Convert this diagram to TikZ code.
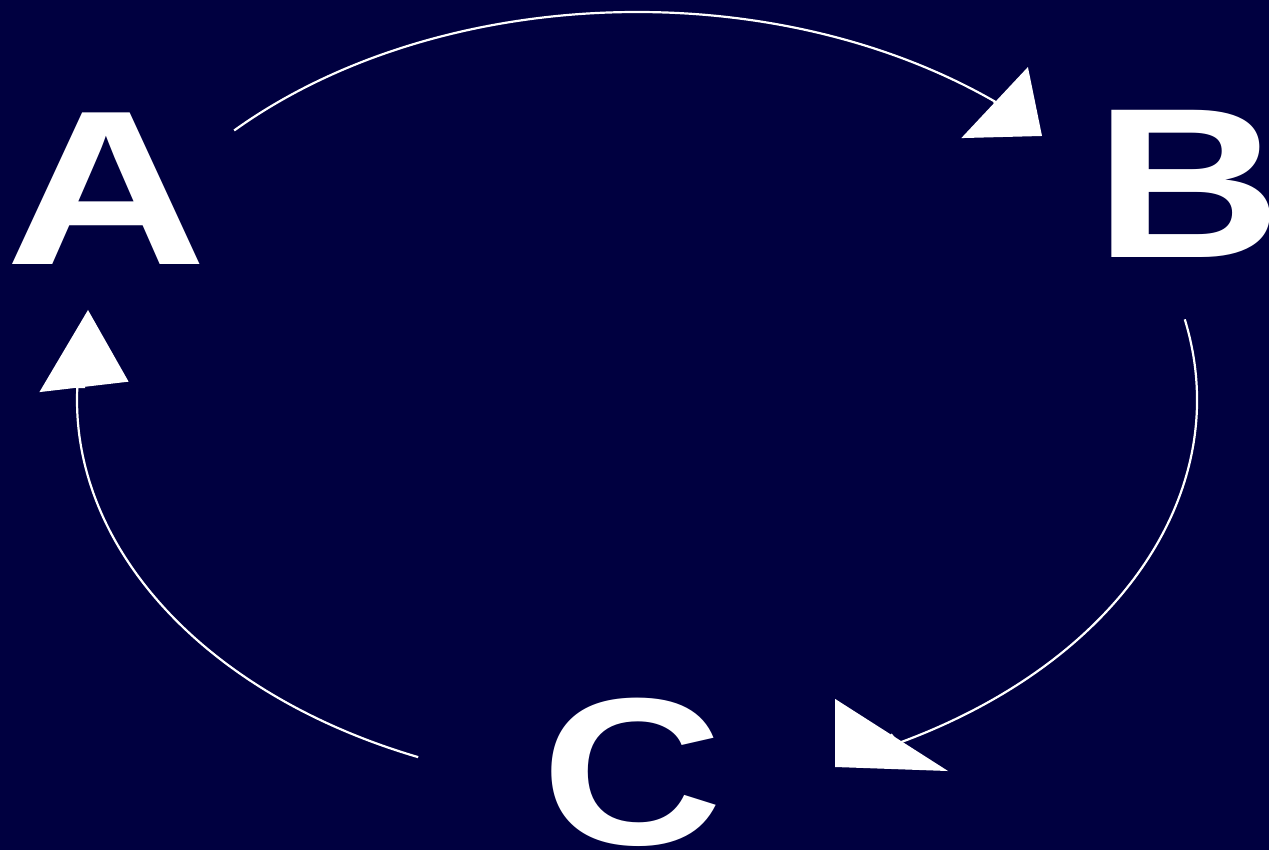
\documentclass[tikz,border=0pt]{standalone}
\usepackage{fontspec}
\setmainfont{Liberation Sans}
\usetikzlibrary{arrows.meta, bending}
\definecolor{navy}{RGB}{0,0,64}

\begin{document}
\begin{tikzpicture}[x=0.5pt, y=0.5pt]

\tikzset{letter/.style = {text=white, inner sep=0pt, anchor=base, font=\bfseries\fontsize{107}{107}\selectfont, xscale=1.25, transform shape}}
\tikzset{flow/.style = {draw=white, line width=1.1pt}}
% background
\useasboundingbox (0,0) rectangle (1269,850);
\fill[navy] (0,0) rectangle (1269,850);
% letters
\node[letter, xscale=1.045, yscale=1.03] (A) at (106,585) {A};
\node[letter, xscale=0.97] (B) at (1188,592) {B};
\node[letter, xscale=0.94, yscale=0.98] (C) at (632,5) {C};
% centre of the ring, arrow bases and tips
\coordinate (O) at (637,450);
\coordinate (baseB) at (994.5,747.5);
\coordinate (tipB) at (1042,714);
\coordinate (baseC) at (891.5,115);
\coordinate (tipC) at (835,83);
\coordinate (baseA) at (84,463);
\coordinate (tipA) at (88,540);
% arcs
\path[flow, -{Triangle[length=29pt, width=48pt, slant=0.14]}] ([shift={(136:280pt and 194pt)}]O) arc[start angle=136, end angle=50.3, x radius=280pt, y radius=194pt] -- (baseB) -- (tipB);
\path[flow, -{Triangle[length=32.5pt, width=59pt, slant=-0.53]}] ([shift={(12:280pt and 194pt)}]O) arc[start angle=12, end angle=-62.2, x radius=280pt, y radius=194pt] -- (baseC) -- (tipC);
\path[flow, -{Triangle[length=38.5pt, width=44pt, slant=-0.17]}] ([shift={(247:280pt and 194pt)}]O) arc[start angle=247, end angle=178.1, x radius=280pt, y radius=194pt] -- (baseA) -- (tipA);
\end{tikzpicture}
\end{document}
